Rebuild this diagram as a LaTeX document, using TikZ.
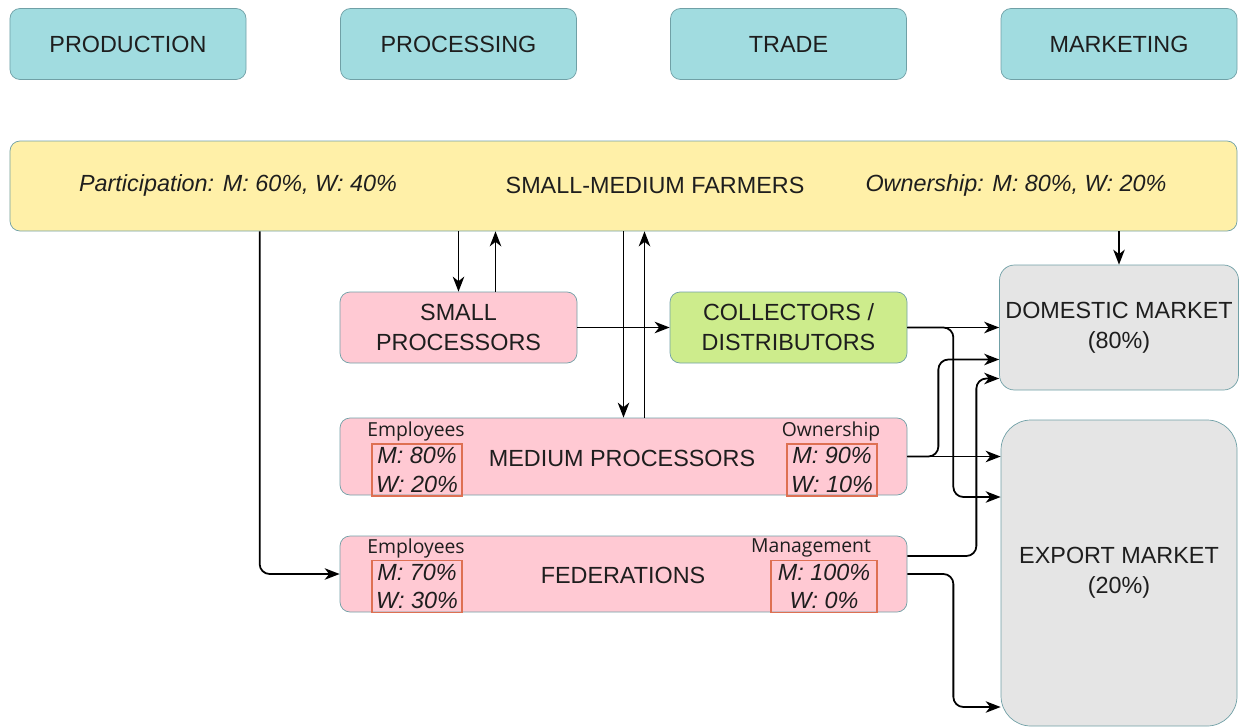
\documentclass[tikz,border=0pt]{standalone}
\usepackage{fontspec}
\setmainfont{Liberation Sans}
\newfontfamily\labelfont{Open Sans}
\usetikzlibrary{arrows.meta, positioning, calc}
\definecolor{stageteal}{RGB}{161, 220, 224}
\definecolor{edgeteal}{RGB}{112, 160, 166}
\definecolor{farmyellow}{RGB}{255, 240, 168}
\definecolor{procpink}{RGB}{255, 201, 211}
\definecolor{tradegreen}{RGB}{205, 236, 140}
\definecolor{marketgray}{RGB}{229, 229, 229}
\definecolor{sharered}{RGB}{222, 112, 82}
\definecolor{inkgray}{RGB}{30, 30, 30}
\tikzset{
  >=Stealth,
  flowarrow/.style={-{Stealth[length=3mm, width=2.3mm, inset=0.9mm]}, line width=1pt, black, rounded corners=2mm},
  stagebox/.style={draw=edgeteal, fill=stageteal, rounded corners=2mm, minimum width=47.2mm, minimum height=14.2mm},
  farmbox/.style={draw=edgeteal, fill=farmyellow, rounded corners=2mm, minimum width=245.4mm, minimum height=18mm},
  procbox/.style={draw=edgeteal, fill=procpink, rounded corners=2mm, minimum height=14.2mm},
  tradebox/.style={draw=edgeteal, fill=tradegreen, rounded corners=2mm, minimum width=47.4mm, minimum height=14.2mm},
  marketbox/.style={draw=edgeteal, fill=marketgray, rounded corners=3mm, minimum width=47.2mm, align=center},
  sharebox/.style={draw=sharered, line width=0.6pt, minimum width=18mm, minimum height=10.4mm, inner sep=0pt, align=center, font=\fontsize{13.3}{16}\selectfont\itshape},
  sharelabel/.style={inner sep=0pt, font=\labelfont\fontsize{11}{13}\selectfont}
}

\begin{document}
\begin{tikzpicture}[x=0.2mm, y=-0.2mm, font=\fontsize{13.3}{17}\selectfont, text=inkgray]
    \useasboundingbox (0,0) rectangle (1239,727);

    % value chain stages
    \node (prod) [stagebox] at (128, 44) {PRODUCTION};
    \node (proc) [stagebox] at (458.5, 44) {PROCESSING};
    \node (trade) [stagebox] at (788.5, 44) {TRADE};
    \node (mkt) [stagebox] at (1119, 44) {MARKETING};

    % farmers band
    \node (farm) [farmbox] at (623.5, 186) {};
    \node (farmname) at (655, 185) {SMALL-MEDIUM FARMERS};
    \node (farmpart) at (238, 185) {\itshape Participation: M: 60\%, W: 40\%};
    \node (farmown) at (1016, 185) {\itshape Ownership: M: 80\%, W: 20\%};

    % processors, traders, markets
    \node (sp) [procbox, minimum width=47.4mm, align=center] at (458.5, 327.5) {SMALL\\PROCESSORS};
    \node (coll) [tradebox, align=center] at (788.5, 327.5) {COLLECTORS /\\DISTRIBUTORS};
    \node (dom) [marketbox, minimum height=25mm] at (1119, 327.5) {DOMESTIC MARKET\\(80\%)};
    \node (exp) [marketbox, rounded corners=6mm, minimum height=61.2mm] at (1119, 573) {EXPORT MARKET\\(20\%)};
    \node (med) [procbox, minimum width=113.4mm, minimum height=15.4mm] at (623.5, 456.5) {};
    \node (fed) [procbox, minimum width=113.4mm, minimum height=15.2mm] at (623.5, 574) {};
    \node (medname) at (622, 458) {MEDIUM PROCESSORS};
    \node (fedname) at (623, 575) {FEDERATIONS};

    % gender shares
    \node (medemplbl) [sharelabel] at (416, 431) {Employees};
    \node (medemp) [sharebox] at (417, 470) {M: 80\%\\W: 20\%};
    \node (medownlbl) [sharelabel] at (831, 431) {Ownership};
    \node (medown) [sharebox] at (832, 470) {M: 90\%\\W: 10\%};
    \node (fedemplbl) [sharelabel] at (416, 548) {Employees};
    \node (fedemp) [sharebox] at (417, 586.5) {M: 70\%\\W: 30\%};
    \node (fedmanlbl) [sharelabel] at (811, 548) {Management};
    \node (fedman) [sharebox, minimum width=21.2mm] at (824, 586.5) {M: 100\%\\W: 0\%};

    % return flows leave a little right of centre
    \coordinate (spup) at ($(sp.north)+(37,0)$);
    \coordinate (medup) at ($(med.north)+(21,0)$);
    \coordinate (fedin) at ($(farm.south west)+(250,0)$);

    % flows
    \draw[flowarrow] (farm.south -| sp.north) -- (sp.north);
    \draw[flowarrow] (spup) -- (spup |- farm.south);
    \draw[flowarrow] (farm.south -| med.north) -- (med.north);
    \draw[flowarrow] (medup) -- (medup |- farm.south);
    \draw[flowarrow] (fedin) |- (fed.west);
    \draw[flowarrow] (sp.east) -- (coll.west);
    \draw[flowarrow] (farm.south -| dom.north) -- (dom.north);
    \draw[flowarrow] (coll.east) -- (coll.east -| dom.west);
    \draw[flowarrow] (coll.east) -- ++(46,0) |- ($(exp.west)+(0,-76)$);
    \draw[flowarrow] (med.east) -- ++(31,0) |- ($(dom.west)+(0,32)$);
    \draw[flowarrow] (med.east) -- (med.east -| exp.west);
    \draw[flowarrow] ($(fed.east)+(0,-18)$) -- ++(69,0) |- ($(dom.west)+(0,51)$);
    \draw[flowarrow] (fed.east) -- ++(46,0) |- ($(exp.west)+(0,134)$);
\end{tikzpicture}
\end{document}
